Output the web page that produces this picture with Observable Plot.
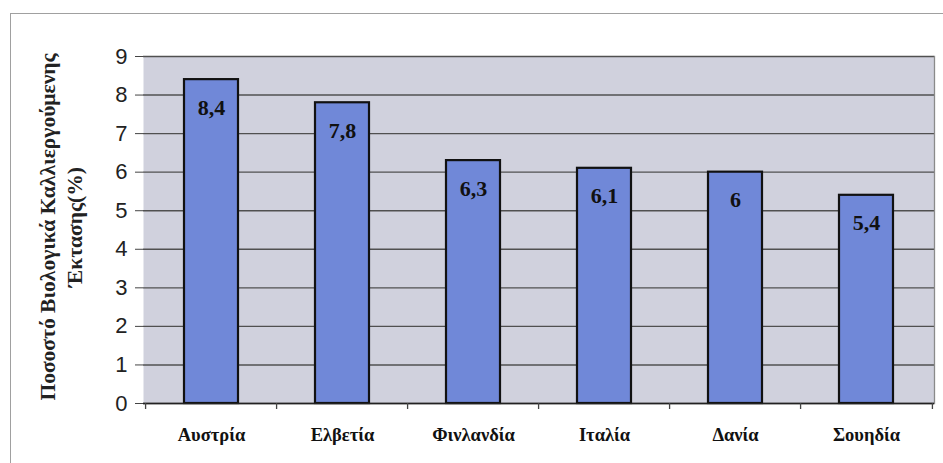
<!DOCTYPE html>
<html>
<head>
<meta charset="utf-8">
<script src="https://cdn.jsdelivr.net/npm/d3@7"></script>
<script src="https://cdn.jsdelivr.net/npm/@observablehq/plot@0.6"></script>
<style>
  html, body { margin: 0; padding: 0; background: #fff; }
  #wrap { position: relative; width: 943px; height: 463px; overflow: hidden; }
  #border { position: absolute; left: 10px; top: 13px; width: 940px; height: 460px; border: 1px solid #a0a0a0; box-sizing: border-box; }
  #chart { position: absolute; left: 0; top: 0; }
</style>
</head>
<body>
<div id="wrap"><div id="border"></div><div id="chart"></div></div>
<script>
const countries = ["Αυστρία", "Ελβετία", "Φινλανδία", "Ιταλία", "Δανία", "Σουηδία"];
const values = [8.4, 7.8, 6.3, 6.1, 6, 5.4];
const yTicks = [0, 1, 2, 3, 4, 5, 6, 7, 8, 9];
const yTitle1 = "Ποσοστό Βιολογικά Καλλιεργούμενης";
const yTitle2 = "Έκτασης(%)";

const data = countries.map((c, i) => ({country: c, value: values[i]}));
const fmt = v => String(v).replace(".", ",");

const W = 943, H = 463;
const mL = 143, mR = 9, mT = 56, mB = 60;
const step = (W - mL - mR) / countries.length;
const serif = "'Liberation Serif', 'Times New Roman', serif";

const plot = Plot.plot({
  width: W, height: H,
  marginLeft: mL, marginRight: mR, marginTop: mT, marginBottom: mB,
  style: {background: "transparent", overflow: "visible"},
  x: {domain: countries, paddingInner: 0.59, paddingOuter: 0.295, label: null},
  y: {domain: [0, 9], label: null},
  marks: [
    Plot.frame({fill: "#d0d1dd", stroke: "none"}),
    Plot.gridY(yTicks, {stroke: "#505050", strokeOpacity: 1, strokeWidth: 1.4}),
    Plot.frame({anchor: "right", stroke: "#8a8a8a", strokeWidth: 1.3}),
    Plot.barY(data, {x: "country", y: "value", fill: "#7088d8", stroke: "#111", strokeWidth: 2.2}),
    Plot.ruleY([0], {stroke: "#222", strokeWidth: 1.5}),
    Plot.ruleX([0], {frameAnchor: "left", stroke: "#444", strokeWidth: 1.3}),
    Plot.axisY(yTicks, {tickSize: 8, tickPadding: 8, fontSize: 22, fontFamily: "'Liberation Sans', Arial, sans-serif", fill: "#222", stroke: "#444", label: null}),
    Plot.axisX({tickSize: 0, tickPadding: 24, fontSize: 18.5, fontWeight: "bold", fontFamily: serif, fill: "#111", label: null, style: {letterSpacing: "0.8px"}}),
    Plot.ruleX(countries, {x: d => d, y1: 0, y2: 0, insetBottom: -6, dx: -step / 2, stroke: "#444", strokeWidth: 1.3}),
    Plot.ruleX(countries.slice(-1), {x: d => d, y1: 0, y2: 0, insetBottom: -6, dx: step / 2, stroke: "#444", strokeWidth: 1.3}),
    Plot.text(data, {x: "country", y: "value", text: d => fmt(d.value), dy: 28, fontSize: 22, fontWeight: "bold", fontFamily: serif, fill: "#111", style: {letterSpacing: "0.8px"}}),
    Plot.text([yTitle1], {frameAnchor: "left", textAnchor: "middle", text: d => d, rotate: -90, dx: -95, dy: -3, fontSize: 21.5, fontWeight: "bold", fontFamily: serif, fill: "#222", style: {letterSpacing: "1px"}}),
    Plot.text([yTitle2], {frameAnchor: "left", textAnchor: "middle", text: d => d, rotate: -90, dx: -68, dy: -3, fontSize: 21.5, fontWeight: "bold", fontFamily: serif, fill: "#222"})
  ]
});
document.getElementById("chart").appendChild(plot);
</script>
</body>
</html>
